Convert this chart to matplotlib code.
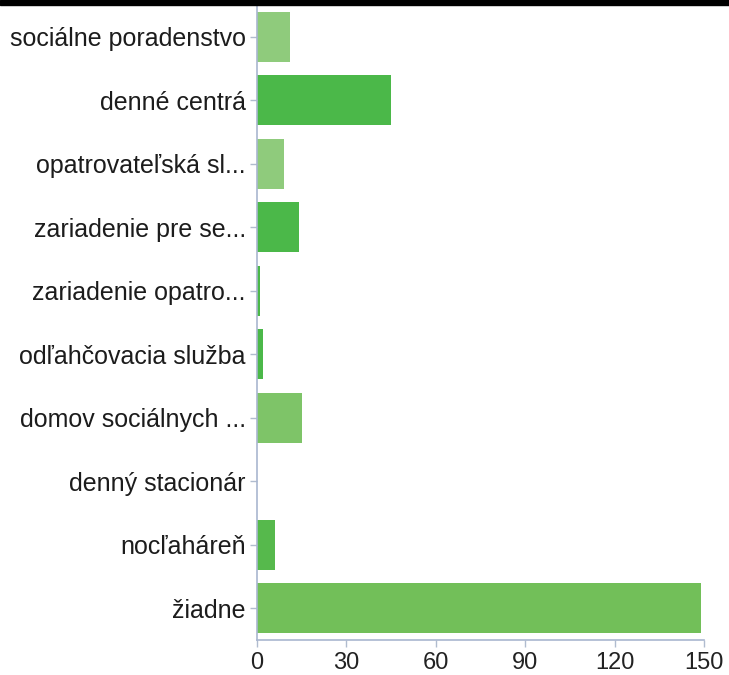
import matplotlib.pyplot as plt
from matplotlib.patches import Rectangle

categories = ['sociálne poradenstvo', 'denné centrá', 'opatrovateľská sl...',
              'zariadenie pre se...', 'zariadenie opatro...', 'odľahčovacia služba',
              'domov sociálnych ...', 'denný stacionár', 'nocľaháreň', 'žiadne']
counts = [11, 45, 9, 14, 1, 2, 15, 0, 6, 149]
colors = ['#8fcb7c', '#4bb849', '#8fcb7c', '#4bb849', '#4bb849',
          '#4bb849', '#7ec468', '#7ec468', '#56b94c', '#72bf59']
xticks = [0, 30, 60, 90, 120, 150]

plt.rcParams['font.family'] = ['Liberation Sans', 'DejaVu Sans']

fig = plt.figure(figsize=(7.29, 6.75), dpi=100)
ax = fig.add_axes([0.3525, 0.052, 0.6132, 0.9406])

pos = range(len(categories))
ax.barh(pos, counts, height=0.79, color=colors)
ax.set_yticks(list(pos))
ax.set_yticklabels(categories, fontsize=18, color='#1c1c1c')
ax.set_ylim(len(categories) - 0.5, -0.5)
ax.set_xlim(0, 150)
ax.set_xticks(xticks)
ax.set_xticklabels([str(t) for t in xticks], fontsize=17, color='#222222')

for side in ['top', 'right']:
    ax.spines[side].set_visible(False)
for side in ['left', 'bottom']:
    ax.spines[side].set_color('#a9b6cf')
    ax.spines[side].set_linewidth(1.2)
ax.tick_params(axis='both', colors='#b0bccf', length=5, width=1)
ax.tick_params(axis='y', pad=3, labelcolor='#1c1c1c')
ax.tick_params(axis='x', pad=4, labelcolor='#222222')

# dark strip along the top edge of the scan
fig.add_artist(Rectangle((0, 0.993), 1, 0.007, transform=fig.transFigure,
                         color='black', zorder=10))

fig.savefig('out.png', dpi=100)
